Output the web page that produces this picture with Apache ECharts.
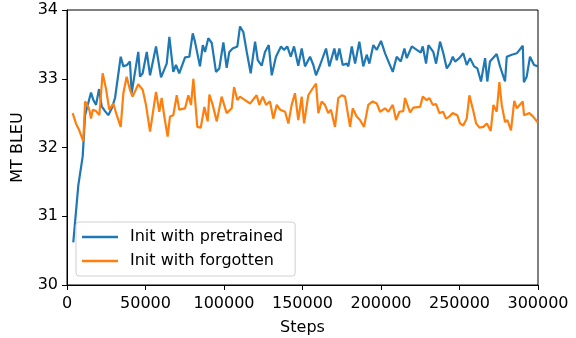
<!DOCTYPE html>
<html><head><meta charset="utf-8">
<script src="https://cdn.jsdelivr.net/npm/echarts@6/dist/echarts.min.js"></script>
<style>html,body{margin:0;padding:0;background:#fff}#c{width:576px;height:338px}</style>
</head><body><div id="c"></div>
<script>
const seriesNames = ["Init with pretrained", "Init with forgotten"];
const xTicks = [0, 50000, 100000, 150000, 200000, 250000, 300000];
const yTicks = [30, 31, 32, 33, 34];

const pretrainedSteps = [4000,7200,10000,11500,15300,16800,18500,20400,22100,24200,26300,28500,30600,34200,35900,38200,40100,41200,42700,45400,46500,48200,50800,52900,56700,59900,63500,65200,67700,69400,71500,75200,77900,80100,81500,84700,86500,87900,90000,92200,94900,97000,99600,101700,103400,105500,108500,110200,112300,114500,117000,119800,121500,124000,126100,128500,130400,133100,136300,138200,140300,142500,144600,147300,149500,151600,154800,156900,158600,161200,165000,167100,170300,171800,173500,175600,178200,179200,181400,183500,186200,188700,190900,192600,195100,197300,200000,202600,205300,207500,210000,212600,214900,216400,219600,222800,225300,226600,228700,230200,233300,235100,237600,239700,241900,244000,245700,247200,249900,252400,254600,256700,259300,261400,263700,266300,267700,269400,273700,275800,279000,280100,283300,286500,290300,291000,292800,294900,297500,300000];
const pretrainedBleu = [30.62,31.45,31.87,32.47,32.80,32.69,32.62,32.85,32.60,32.53,32.47,32.57,32.72,33.32,33.18,33.20,33.25,32.79,33.01,33.39,33.03,33.08,33.39,33.05,33.47,33.02,33.22,33.61,33.10,33.20,33.08,33.31,33.32,33.66,33.54,33.18,33.49,33.39,33.59,33.52,33.10,33.15,33.53,33.16,33.39,33.44,33.47,33.76,33.68,33.39,33.08,33.54,33.27,33.19,33.39,33.49,33.05,33.32,33.47,33.42,33.47,33.32,33.47,33.19,33.44,33.18,33.32,33.20,33.05,33.20,33.44,33.18,33.44,33.27,33.44,33.20,33.22,33.18,33.47,33.22,33.54,33.18,33.35,33.22,33.49,33.42,33.55,33.37,33.22,33.10,33.32,33.25,33.44,33.30,33.47,33.42,33.38,33.47,33.22,33.49,33.39,33.22,33.54,33.37,33.15,33.22,33.32,33.25,33.30,33.37,33.20,33.30,33.18,33.15,32.96,33.30,32.96,33.25,33.36,33.18,32.96,33.32,33.35,33.37,33.48,32.95,33.03,33.32,33.20,33.18];

const forgottenSteps = [3600,5700,7800,10400,11500,12900,14200,15300,16400,18500,20600,22700,24800,26900,29500,31700,34200,35900,38000,40100,41800,45400,48200,50300,52900,56700,58800,60300,62000,64100,65600,67700,69900,71500,75200,77300,79000,80500,83000,85200,87500,89600,90700,92800,95400,98500,101700,104900,106400,108500,110200,113400,116600,120800,122500,124700,126800,129300,131400,133600,135700,138900,141000,143100,145200,147300,149500,151000,153700,155900,158600,160100,162200,164300,166400,168100,170700,172800,175000,177100,180300,182000,184500,186600,189200,191900,194700,197300,199400,202600,204700,207500,209600,211700,214200,215300,218500,220600,224900,226600,229100,230800,233000,235100,237200,239500,241400,243500,245700,248600,250300,252400,254600,256300,258800,260600,262700,265200,267400,269900,271600,273700,275400,276900,279000,280500,282800,284900,286500,290300,291100,294500,296900,300000];
const forgottenBleu = [32.50,32.35,32.25,32.09,32.67,32.62,32.55,32.42,32.55,32.53,32.47,33.08,32.86,32.55,32.64,32.47,32.30,32.79,33.03,32.84,32.74,32.92,32.84,32.62,32.23,32.81,32.52,32.72,32.45,32.16,32.45,32.47,32.76,32.55,32.57,32.76,32.62,33.00,32.30,32.29,32.59,32.38,32.77,32.62,32.38,32.74,32.50,32.57,32.88,32.69,32.74,32.69,32.64,32.76,32.62,32.74,32.62,32.67,32.42,32.62,32.55,32.52,32.35,32.62,32.79,32.40,32.74,32.35,32.76,32.84,32.93,32.50,32.67,32.62,32.50,32.55,32.30,32.72,32.76,32.74,32.30,32.57,32.45,32.40,32.30,32.62,32.67,32.64,32.52,32.57,32.52,32.62,32.40,32.52,32.53,32.72,32.51,32.58,32.59,32.74,32.69,32.72,32.62,32.63,32.50,32.52,32.42,32.45,32.50,32.47,32.35,32.32,32.42,32.76,32.53,32.35,32.29,32.30,32.35,32.24,32.62,32.52,32.95,32.62,32.37,32.40,32.25,32.68,32.57,32.67,32.47,32.50,32.45,32.36];

const FONT = "DejaVu Sans";
const pair = (xs, ys) => xs.map((x, i) => [x, ys[i]]);

const chart = echarts.init(document.getElementById('c'), null, {renderer: 'canvas'});
chart.setOption({
  animation: false,
  backgroundColor: '#fff',
  grid: {left: 67, right: 38, top: 10, bottom: 53, outerBoundsMode: 'none', containLabel: false, show: true, borderColor: '#000', borderWidth: 1, backgroundColor: 'transparent'},
  xAxis: {
    type: 'value', min: xTicks[0], max: xTicks[xTicks.length - 1], interval: xTicks[1] - xTicks[0],
    name: 'Steps', nameLocation: 'middle', nameGap: 35,
    nameTextStyle: {fontFamily: FONT, fontSize: 16, color: '#000'},
    axisLine: {show: true, lineStyle: {color: '#000', width: 1}},
    axisTick: {show: true, inside: false, length: 5, lineStyle: {color: '#000'}},
    axisLabel: {fontFamily: FONT, fontSize: 16, color: '#000', margin: 11, formatter: v => String(v)},
    splitLine: {show: false}
  },
  yAxis: {
    type: 'value', min: yTicks[0], max: yTicks[yTicks.length - 1], interval: 1,
    name: 'MT BLEU', nameLocation: 'middle', nameGap: 41,
    nameTextStyle: {fontFamily: FONT, fontSize: 16, color: '#000'},
    axisLine: {show: true, lineStyle: {color: '#000', width: 1}},
    axisTick: {show: true, inside: false, length: 5, lineStyle: {color: '#000'}},
    axisLabel: {fontFamily: FONT, fontSize: 16, color: '#000', margin: 9},
    splitLine: {show: false}
  },
  legend: {
    left: 76, top: 222, orient: 'vertical',
    data: seriesNames.map(n => ({name: n, icon: 'rect'})),
    itemWidth: 36, itemHeight: 2.5, itemGap: 8,
    padding: [7, 12, 7, 6],
    backgroundColor: 'rgba(255,255,255,0.8)',
    borderColor: '#d0d0d0', borderWidth: 1, borderRadius: 3,
    textStyle: {fontFamily: FONT, fontSize: 16, color: '#000', padding: [0, 0, 0, 7], lineHeight: 16}
  },
  series: [
    {name: seriesNames[0], type: 'line', data: pair(pretrainedSteps, pretrainedBleu), symbol: 'none', color: '#1f77b4', lineStyle: {width: 2.2, color: '#1f77b4'}, z: 2},
    {name: seriesNames[1], type: 'line', data: pair(forgottenSteps, forgottenBleu), symbol: 'none', color: '#ff7f0e', lineStyle: {width: 2.2, color: '#ff7f0e'}, z: 3}
  ]
});
</script>
</body></html>
